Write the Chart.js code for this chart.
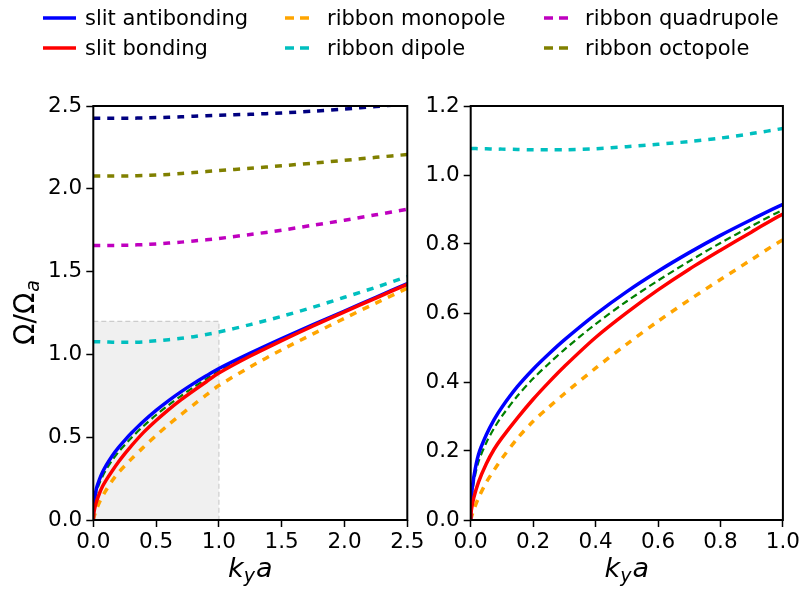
<!DOCTYPE html>
<html>
<head>
<meta charset="utf-8">
<script src="https://cdn.jsdelivr.net/npm/chart.js@4.4.1/dist/chart.umd.min.js"></script>
<style>
  html, body { margin: 0; padding: 0; background: #fff; }
  #wrap { position: relative; width: 803px; height: 591px; overflow: hidden; font-family: 'DejaVu Sans', sans-serif; }
  #leftBox { position: absolute; left: 0; top: 0; width: 432px; height: 591px; }
  #rightBox { position: absolute; left: 420px; top: 0; width: 383px; height: 591px; }
  .leg { position: absolute; height: 24px; font-size: 21px; line-height: 24px; color: #000; white-space: nowrap; }
  .leg svg { position: absolute; left: 0; top: 8px; }
  .leg span { position: absolute; top: 0; }
</style>
</head>
<body>
<div id="wrap">
  <div id="leftBox"><canvas id="leftChart"></canvas></div>
  <div id="rightBox"><canvas id="rightChart"></canvas></div>
  <div id="legend"></div>
</div>
<script>
// k_y a grid shared by every curve
const kya = [0, 0.002, 0.01, 0.025, 0.05, 0.075, 0.1, 0.15, 0.2, 0.25, 0.3, 0.4, 0.5, 0.6, 0.7, 0.8, 0.9, 1.0, 1.25, 1.5, 1.75, 2.0, 2.25, 2.5];

const slitAntibonding = [0, 0.065, 0.125, 0.19, 0.247, 0.291, 0.327, 0.387, 0.437, 0.481, 0.522, 0.596, 0.662, 0.721, 0.775, 0.825, 0.871, 0.915, 1.008, 1.096, 1.18, 1.262, 1.345, 1.428];
const slitBonding = [0, 0.028, 0.065, 0.11, 0.163, 0.205, 0.238, 0.296, 0.35, 0.399, 0.445, 0.529, 0.601, 0.667, 0.727, 0.782, 0.835, 0.887, 0.99, 1.083, 1.172, 1.257, 1.34, 1.423];
const slitApprox = [0, 0.055, 0.11, 0.169, 0.224, 0.266, 0.301, 0.36, 0.41, 0.453, 0.494, 0.568, 0.634, 0.694, 0.75, 0.803, 0.852, 0.899, 0.998, 1.09, 1.176, 1.26, 1.343, 1.426];
const ribbonMonopole = [0, 0.007, 0.03, 0.064, 0.109, 0.145, 0.178, 0.237, 0.286, 0.327, 0.366, 0.44, 0.51, 0.576, 0.638, 0.697, 0.755, 0.812, 0.925, 1.028, 1.124, 1.218, 1.31, 1.40];
const ribbonDipole = [1.077, 1.077, 1.077, 1.076, 1.076, 1.075, 1.075, 1.074, 1.073, 1.073, 1.073, 1.076, 1.082, 1.089, 1.097, 1.107, 1.12, 1.135, 1.18, 1.23, 1.285, 1.345, 1.405, 1.47];
const ribbonQuadrupole = [1.658, 1.658, 1.658, 1.658, 1.658, 1.658, 1.658, 1.658, 1.658, 1.659, 1.66, 1.663, 1.667, 1.672, 1.678, 1.685, 1.692, 1.70, 1.724, 1.75, 1.78, 1.81, 1.843, 1.877];
const ribbonOctopole = [2.077, 2.077, 2.077, 2.077, 2.077, 2.077, 2.077, 2.077, 2.077, 2.077, 2.078, 2.08, 2.083, 2.087, 2.092, 2.098, 2.104, 2.11, 2.124, 2.139, 2.155, 2.172, 2.19, 2.207];
const ribbonHigher = [2.426, 2.426, 2.426, 2.426, 2.426, 2.426, 2.426, 2.426, 2.426, 2.426, 2.426, 2.428, 2.43, 2.432, 2.435, 2.438, 2.441, 2.444, 2.45, 2.458, 2.469, 2.482, 2.497, 2.513];

// zoomed region marked on the left panel
const boxX = [0, 1, 1];
const boxY = [1.2, 1.2, 0];

const leftTicksX = [0, 0.5, 1.0, 1.5, 2.0, 2.5];
const leftTicksY = [0, 0.5, 1.0, 1.5, 2.0, 2.5];
const rightTicksX = [0, 0.2, 0.4, 0.6, 0.8, 1.0];
const rightTicksY = [0, 0.2, 0.4, 0.6, 0.8, 1.0, 1.2];

const FONT = "'DejaVu Sans', sans-serif";
const DASH = [7, 7];

const pts = (ys) => kya.map((x, i) => ({ x, y: ys[i] }));

// drawn top-most first
const series = [
  { label: 'slit bonding', data: slitBonding, color: '#ff0000', dash: [], width: 3.5, legend: [1, 0] },
  { label: 'slit antibonding', data: slitAntibonding, color: '#0000ff', dash: [], width: 3.5, legend: [0, 0] },
  { label: 'ribbon monopole', data: ribbonMonopole, color: '#ffa500', dash: DASH, width: 3.5, legend: [0, 1] },
  { label: 'ribbon dipole', data: ribbonDipole, color: '#00bfbf', dash: DASH, width: 3.5, legend: [1, 1] },
  { label: 'ribbon quadrupole', data: ribbonQuadrupole, color: '#bf00bf', dash: DASH, width: 3.5, legend: [0, 2] },
  { label: 'ribbon octopole', data: ribbonOctopole, color: '#808000', dash: DASH, width: 3.5, legend: [1, 2] },
  { label: '', data: ribbonHigher, color: '#000080', dash: DASH, width: 3.5 },
  { label: '', data: slitApprox, color: '#008000', dash: [7, 4], width: 2.2 }
];

function lineSets() {
  return series.map((s) => ({
    label: s.label,
    data: pts(s.data),
    borderColor: s.color,
    borderWidth: s.width,
    borderDash: s.dash,
    borderCapStyle: 'butt',
    pointRadius: 0,
    fill: false,
    tension: 0.3,
    clip: 0
  }));
}

// frame + math-style axis titles
const decorations = {
  id: 'decorations',
  afterDatasetsDraw(chart, args, opts) {
    const { ctx, chartArea: a } = chart;
    ctx.save();
    ctx.strokeStyle = '#000';
    ctx.lineWidth = 2;
    ctx.strokeRect(a.left, a.top, a.right - a.left, a.bottom - a.top);
    ctx.fillStyle = '#000';
    ctx.textBaseline = 'alphabetic';

    // k_y a
    const big = 27;
    const small = 19;
    ctx.font = `italic ${big}px ${FONT}`;
    const wk = ctx.measureText('k').width;
    ctx.font = `italic ${small}px ${FONT}`;
    const wy = ctx.measureText('y').width;
    ctx.font = `italic ${big}px ${FONT}`;
    const wa = ctx.measureText('a').width;
    let x = (a.left + a.right) / 2 - (wk + wy + wa + 1) / 2;
    const base = a.bottom + 57;
    ctx.fillText('k', x, base);
    ctx.font = `italic ${small}px ${FONT}`;
    ctx.fillText('y', x + wk, base + 5);
    ctx.font = `italic ${big}px ${FONT}`;
    ctx.fillText('a', x + wk + wy + 1, base);

    if (opts.yTitle) {
      ctx.translate(a.left - 59, (a.top + a.bottom) / 2);
      ctx.rotate(-Math.PI / 2);
      ctx.font = `${big + 1}px ${FONT}`;
      const w1 = ctx.measureText('Ω/Ω').width;
      ctx.font = `italic ${small}px ${FONT}`;
      const w2 = ctx.measureText('a').width;
      x = -(w1 + w2) / 2;
      ctx.font = `${big + 1}px ${FONT}`;
      ctx.fillText('Ω/Ω', x, 0);
      ctx.font = `italic ${small}px ${FONT}`;
      ctx.fillText('a', x + w1 + 1, 5);
    }
    ctx.restore();
  }
};

function axis(min, max, ticks, size, isX) {
  return {
    type: 'linear',
    min,
    max,
    afterBuildTicks: (scale) => { scale.ticks = ticks.map((v) => ({ value: v })); },
    afterFit: (scale) => { if (isX) { scale.height = size; } else { scale.width = size; } },
    border: { display: false },
    grid: { drawOnChartArea: false, drawTicks: true, tickLength: 7, tickWidth: 1.5, tickColor: '#000' },
    ticks: {
      color: '#000',
      font: { family: FONT, size: 21.5 },
      padding: isX ? 3 : 4,
      callback: (v) => v.toFixed(1)
    }
  };
}

function makeChart(id, datasets, o) {
  return new Chart(document.getElementById(id), {
    type: 'line',
    data: { datasets },
    options: {
      responsive: true,
      maintainAspectRatio: false,
      animation: false,
      events: [],
      layout: { padding: { left: 0, right: o.padRight, top: 106, bottom: 0 } },
      scales: {
        x: axis(0, o.xMax, o.xTicks, 71, true),
        y: axis(0, o.yMax, o.yTicks, o.yWidth, false)
      },
      plugins: {
        legend: { display: false },
        tooltip: { enabled: false },
        decorations: { yTitle: o.yTitle }
      }
    },
    plugins: [decorations]
  });
}

const leftSets = lineSets();
leftSets.push({
  label: '',
  data: boxX.map((x, i) => ({ x, y: boxY[i] })),
  borderColor: '#cccccc',
  borderWidth: 1.2,
  borderDash: [5, 3],
  backgroundColor: '#f0f0f0',
  fill: 'origin',
  pointRadius: 0,
  tension: 0,
  clip: 0
});

makeChart('leftChart', leftSets, {
  xMax: 2.5, yMax: 2.5, xTicks: leftTicksX, yTicks: leftTicksY,
  yWidth: 93.3, padRight: 24.7, yTitle: true
});
makeChart('rightChart', lineSets(), {
  xMax: 1.0, yMax: 1.2, xTicks: rightTicksX, yTicks: rightTicksY,
  yWidth: 50.7, padRight: 18.3, yTitle: false
});

// legend, three columns by two rows
const legCols = [{ x: 43, text: 85 }, { x: 285, text: 327 }, { x: 544, text: 585 }];
const legRows = [18, 48];
const legend = document.getElementById('legend');
series.filter((s) => s.legend).forEach((s) => {
  const [r, c] = s.legend;
  const col = legCols[c];
  const item = document.createElement('div');
  item.className = 'leg';
  item.style.left = `${col.x}px`;
  item.style.top = `${legRows[r] - 12}px`;
  const hw = s.dash.length ? 24 : 33;
  const dash = s.dash.length ? 'stroke-dasharray="9 6"' : '';
  item.innerHTML = `<svg width="${hw}" height="8"><line x1="0" y1="4" x2="${hw}" y2="4" stroke="${s.color}" stroke-width="3.5" ${dash}/></svg>`
    + `<span style="left:${col.text - col.x}px">${s.label}</span>`;
  legend.appendChild(item);
});
</script>
</body>
</html>
